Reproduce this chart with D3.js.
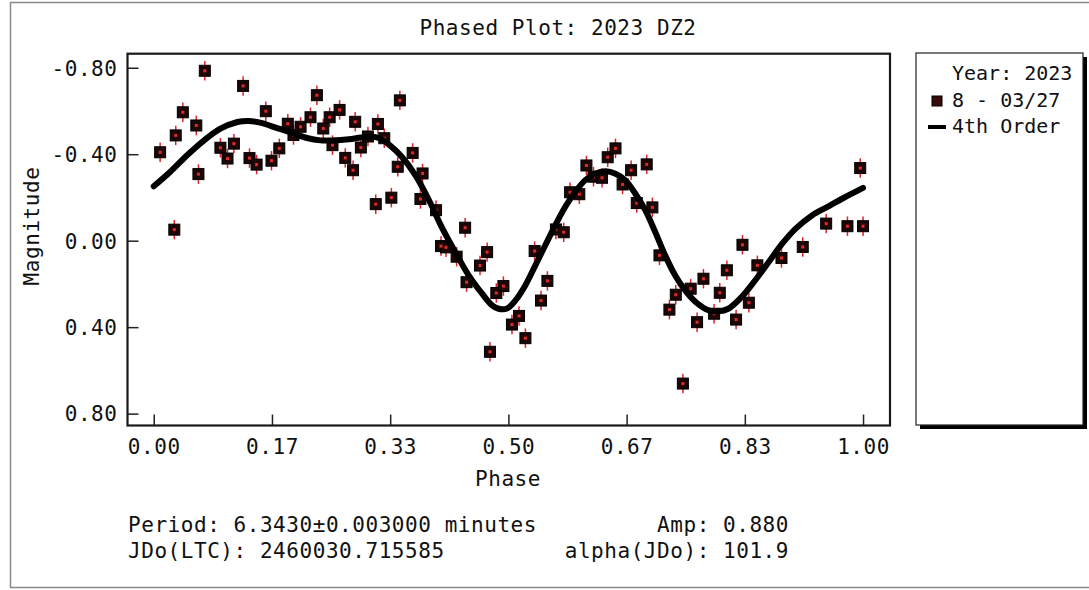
<!DOCTYPE html>
<html>
<head>
<meta charset="utf-8">
<script src="https://cdn.jsdelivr.net/npm/d3@7"></script>
<style>
  body { margin: 0; background: #fff; }
  svg text { font-family: "DejaVu Sans Mono", monospace; fill: #111; }
  svg text.big { letter-spacing: 0.55px; }
</style>
</head>
<body>
<svg id="chart"></svg>
<script>
// observed points (phase, reduced magnitude)
const phase = [0.009, 0.029, 0.031, 0.041, 0.060, 0.063, 0.072, 0.094, 0.104, 0.113,
    0.126, 0.135, 0.145, 0.158, 0.166, 0.177, 0.189, 0.197, 0.207, 0.221,
    0.230, 0.239, 0.248, 0.252, 0.262, 0.270, 0.281, 0.284, 0.292, 0.302,
    0.313, 0.316, 0.325, 0.335, 0.347, 0.344, 0.365, 0.379, 0.376, 0.398,
    0.405, 0.412, 0.427, 0.439, 0.441, 0.460, 0.470, 0.474, 0.483, 0.493,
    0.505, 0.515, 0.524, 0.537, 0.546, 0.555, 0.567, 0.578, 0.587, 0.600,
    0.610, 0.620, 0.632, 0.640, 0.651, 0.661, 0.673, 0.681, 0.695, 0.703,
    0.713, 0.727, 0.736, 0.746, 0.757, 0.766, 0.775, 0.790, 0.798, 0.808,
    0.821, 0.830, 0.839, 0.851, 0.885, 0.915, 0.948, 0.978, 1.000, 0.996];
const mag = [-0.409, -0.051, -0.487, -0.594, -0.533, -0.308, -0.786, -0.430, -0.380, -0.449,
    -0.716, -0.382, -0.352, -0.599, -0.370, -0.427, -0.541, -0.489, -0.527, -0.571,
    -0.673, -0.519, -0.571, -0.442, -0.605, -0.383, -0.326, -0.550, -0.431, -0.482,
    -0.169, -0.540, -0.474, -0.199, -0.649, -0.342, -0.406, -0.311, -0.193, -0.141,
    0.025, 0.031, 0.074, -0.060, 0.192, 0.115, 0.053, 0.514, 0.242, 0.210,
    0.388, 0.348, 0.451, 0.048, 0.277, 0.186, -0.052, -0.039, -0.224, -0.215,
    -0.348, -0.296, -0.291, -0.386, -0.427, -0.260, -0.326, -0.174, -0.353, -0.154,
    0.068, 0.319, 0.250, 0.661, 0.222, 0.377, 0.176, 0.338, 0.241, 0.137,
    0.365, 0.019, 0.287, 0.114, 0.080, 0.029, -0.079, -0.067, -0.067, -0.336];
const magErr = 0.045;

// 4th order fit
const fitPhase = [0.000, 0.023, 0.047, 0.071, 0.094, 0.118, 0.134, 0.150, 0.174, 0.198,
    0.216, 0.235, 0.251, 0.275, 0.298, 0.317, 0.333, 0.350, 0.369, 0.387,
    0.406, 0.425, 0.444, 0.463, 0.477, 0.486, 0.498, 0.510, 0.524, 0.538,
    0.552, 0.566, 0.580, 0.594, 0.608, 0.622, 0.637, 0.651, 0.665, 0.679,
    0.693, 0.707, 0.721, 0.735, 0.749, 0.764, 0.782, 0.796, 0.810, 0.829,
    0.848, 0.867, 0.886, 0.905, 0.928, 0.952, 0.975, 1.000];
const fitMag = [-0.252, -0.318, -0.395, -0.464, -0.518, -0.549, -0.554, -0.546, -0.521, -0.495,
    -0.475, -0.464, -0.464, -0.469, -0.480, -0.475, -0.441, -0.387, -0.302, -0.194,
    -0.063, 0.052, 0.160, 0.245, 0.299, 0.315, 0.314, 0.276, 0.206, 0.114,
    0.021, -0.071, -0.156, -0.225, -0.279, -0.310, -0.321, -0.310, -0.279, -0.217,
    -0.141, -0.040, 0.068, 0.160, 0.229, 0.284, 0.322, 0.327, 0.315, 0.260,
    0.183, 0.099, 0.014, -0.056, -0.117, -0.160, -0.202, -0.244];

const xTicks = [0, 1 / 6, 2 / 6, 3 / 6, 4 / 6, 5 / 6, 1];
const yTicks = [-0.8, -0.4, 0, 0.4, 0.8];

const title = 'Phased Plot: 2023 DZ2';
const legendTitle = 'Year: 2023';
const legendItems = ['8 - 03/27', '4th Order'];
const infoLeft = ['Period: 6.3430\u00b10.003000 minutes', 'JDo(LTC): 2460030.715585'];
const infoRight = ['Amp: 0.880', 'alpha(JDo): 101.9'];

const W = 1089, H = 590;
const plot = {left: 127.5, right: 890, top: 53.7, bottom: 425.5};

const svg = d3.select('#chart')
    .attr('width', W)
    .attr('height', H);

// outer page frame
svg.append('rect')
    .attr('x', 10.5).attr('y', 2.5)
    .attr('width', 1100).attr('height', 585)
    .attr('fill', 'none')
    .attr('stroke', '#8a8a8a')
    .attr('stroke-width', 1.5);

const xScale = d3.scaleLinear()
    .domain([-0.037, 1.038])
    .range([plot.left, plot.right]);
const yScale = d3.scaleLinear()
    .domain([-0.865, 0.855])
    .range([plot.top, plot.bottom]);

// axes, ticks point inward
const xAxis = d3.axisBottom(xScale)
    .tickValues(xTicks)
    .tickSizeInner(-11)
    .tickSizeOuter(0)
    .tickPadding(14)
    .tickFormat(d => d.toFixed(2));
const yAxis = d3.axisLeft(yScale)
    .tickValues(yTicks)
    .tickSizeInner(-11)
    .tickSizeOuter(0)
    .tickPadding(10)
    .tickFormat(d => d.toFixed(2));

const xAxisG = svg.append('g')
    .attr('transform', `translate(0,${plot.bottom})`)
    .call(xAxis);
const yAxisG = svg.append('g')
    .attr('transform', `translate(${plot.left},0)`)
    .call(yAxis);

[xAxisG, yAxisG].forEach(g => {
    g.select('.domain').remove();
    g.selectAll('.tick line').attr('stroke', '#222').attr('stroke-width', 1.5);
    g.selectAll('.tick text')
        .attr('class', 'big')
        .attr('font-family', '"DejaVu Sans Mono", monospace')
        .attr('font-size', 21)
        .attr('fill', '#111');
});
yAxisG.selectAll('.tick text').attr('dy', '0.35em');
xAxisG.selectAll('.tick text').attr('dy', '0.71em');

// error bars + markers
const pts = svg.append('g');
const idx = d3.range(phase.length);

pts.selectAll('.err')
    .data(idx)
  .join('line')
    .attr('class', 'err')
    .attr('x1', i => xScale(phase[i]))
    .attr('x2', i => xScale(phase[i]))
    .attr('y1', i => yScale(mag[i] - magErr))
    .attr('y2', i => yScale(mag[i] + magErr))
    .attr('stroke', '#e0242c')
    .attr('stroke-width', 1.5);

pts.selectAll('.mark')
    .data(idx)
  .join('rect')
    .attr('class', 'mark')
    .attr('x', i => xScale(phase[i]) - 5.5)
    .attr('y', i => yScale(mag[i]) - 5.5)
    .attr('width', 11)
    .attr('height', 11)
    .attr('fill', '#1c0606')
    .attr('stroke', '#000')
    .attr('stroke-width', 1);

pts.selectAll('.dot')
    .data(idx)
  .join('rect')
    .attr('class', 'dot')
    .attr('x', i => xScale(phase[i]) - 1.5)
    .attr('y', i => yScale(mag[i]) - 1.5)
    .attr('width', 3)
    .attr('height', 3)
    .attr('fill', '#e02a2a');

// fit curve
const line = d3.line()
    .x(i => xScale(fitPhase[i]))
    .y(i => yScale(fitMag[i]))
    .curve(d3.curveCatmullRom);

svg.append('path')
    .datum(d3.range(fitPhase.length))
    .attr('d', line)
    .attr('fill', 'none')
    .attr('stroke', '#000')
    .attr('stroke-width', 6)
    .attr('stroke-linecap', 'round');

// plot frame
svg.append('rect')
    .attr('x', plot.left).attr('y', plot.top)
    .attr('width', plot.right - plot.left)
    .attr('height', plot.bottom - plot.top)
    .attr('fill', 'none')
    .attr('stroke', '#1a1a1a')
    .attr('stroke-width', 2.2);

// titles
svg.append('text')
    .attr('class', 'big')
    .attr('x', 558).attr('y', 35)
    .attr('text-anchor', 'middle')
    .attr('font-size', 21)
    .text(title);

svg.append('text')
    .attr('class', 'big')
    .attr('x', 508).attr('y', 486)
    .attr('text-anchor', 'middle')
    .attr('font-size', 21)
    .text('Phase');

svg.append('text')
    .attr('class', 'big')
    .attr('transform', 'translate(39,226) rotate(-90)')
    .attr('text-anchor', 'middle')
    .attr('font-size', 21)
    .text('Magnitude');

// period info below the plot
infoLeft.forEach((t, i) => {
    svg.append('text')
        .attr('class', 'big')
        .attr('x', 128).attr('y', 532 + i * 26)
        .attr('font-size', 21)
        .text(t);
});
infoRight.forEach((t, i) => {
    svg.append('text')
        .attr('class', 'big')
        .attr('x', 789).attr('y', 532 + i * 26)
        .attr('text-anchor', 'end')
        .attr('font-size', 21)
        .text(t);
});

// legend box with drop shadow
const lg = {x: 916, y: 53, w: 167, h: 372};
svg.append('rect')
    .attr('x', lg.x + 4).attr('y', lg.y + 4)
    .attr('width', lg.w).attr('height', lg.h)
    .attr('fill', '#000');
svg.append('rect')
    .attr('x', lg.x).attr('y', lg.y)
    .attr('width', lg.w).attr('height', lg.h)
    .attr('fill', '#fff')
    .attr('stroke', '#222')
    .attr('stroke-width', 1.2);

svg.append('text')
    .attr('x', 952).attr('y', 80)
    .attr('font-size', 20)
    .text(legendTitle);

svg.append('rect')
    .attr('x', 932).attr('y', 96)
    .attr('width', 10).attr('height', 10)
    .attr('fill', '#3a0b0b')
    .attr('stroke', '#000');
svg.append('text')
    .attr('x', 952).attr('y', 107)
    .attr('font-size', 20)
    .text(legendItems[0]);

svg.append('line')
    .attr('x1', 928).attr('x2', 946)
    .attr('y1', 127).attr('y2', 127)
    .attr('stroke', '#000')
    .attr('stroke-width', 4);
svg.append('text')
    .attr('x', 952).attr('y', 133)
    .attr('font-size', 20)
    .text(legendItems[1]);
</script>
</body>
</html>
